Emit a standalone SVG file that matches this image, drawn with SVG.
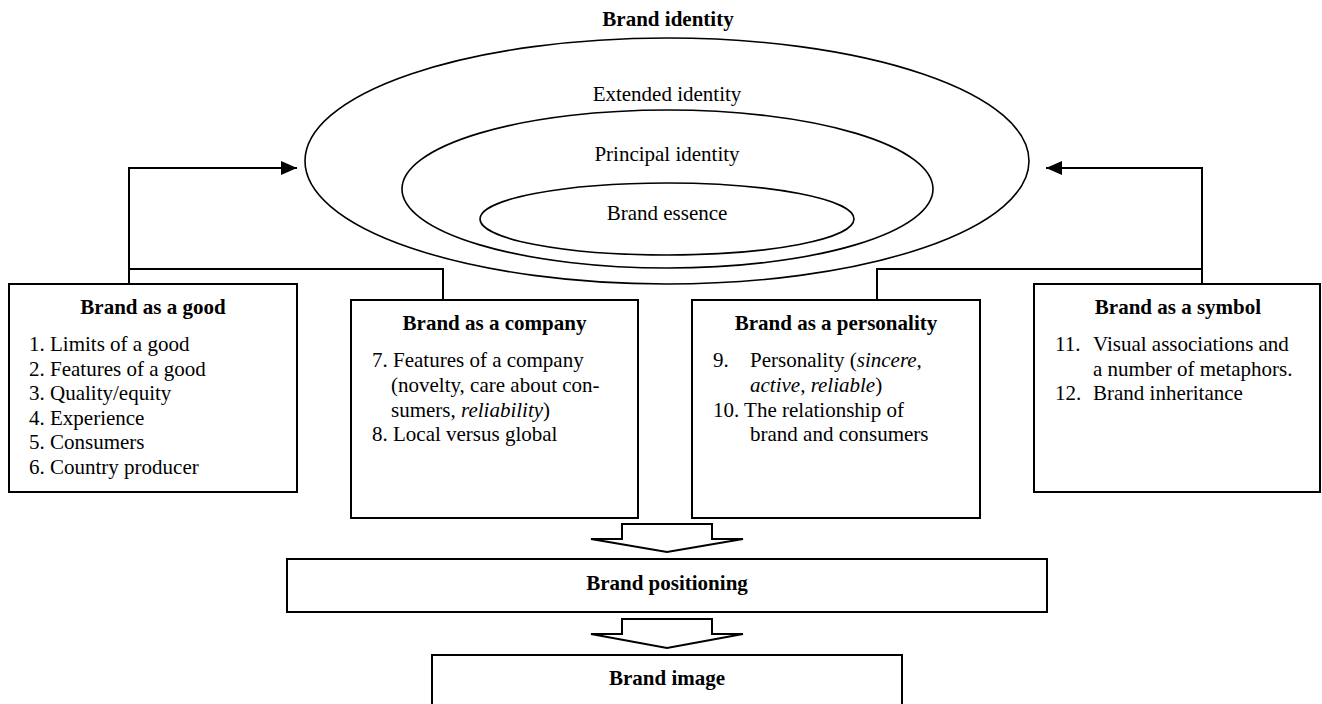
<svg xmlns="http://www.w3.org/2000/svg" width="1322" height="704" viewBox="0 0 1322 704">
<style>
  text { font-family: "Liberation Serif", "Times New Roman", serif; font-size: 21px; fill: #000; }
  .b { font-weight: bold; }
  .c { text-anchor: middle; }
  .box { fill: #fff; stroke: #000; stroke-width: 2; }
  .ell { fill: none; stroke: #000; stroke-width: 1.6; }
  .ln { fill: none; stroke: #000; stroke-width: 2; }
  .blk { fill: #fff; stroke: #000; stroke-width: 2; stroke-linejoin: miter; }
</style>
<defs>
  <marker id="ah" markerWidth="16" markerHeight="14" refX="16" refY="7" orient="auto" markerUnits="userSpaceOnUse">
    <path d="M0,0 L16,7 L0,14 Z" fill="#000"/>
  </marker>
</defs>
<rect width="1322" height="704" fill="#fff"/>

<g id="brand-identity">
  <text class="b c" x="668" y="26">Brand identity</text>
  <ellipse class="ell" cx="667" cy="161" rx="362" ry="123"/>
  <text class="c" x="667" y="101">Extended identity</text>
  <ellipse class="ell" cx="667.5" cy="189" rx="265.5" ry="79"/>
  <text class="c" x="667" y="161">Principal identity</text>
  <ellipse class="ell" cx="667" cy="219" rx="187" ry="36"/>
  <text class="c" x="667" y="220">Brand essence</text>
</g>

<g id="connectors">
  <polyline class="ln" points="129,284 129,168 297,168" marker-end="url(#ah)"/>
  <polyline class="ln" points="129,269 443,269 443,300"/>
  <polyline class="ln" points="1202,284 1202,168 1046,168" marker-end="url(#ah)"/>
  <polyline class="ln" points="1202,269 877,269 877,300"/>
  <polygon class="blk" points="622,524 712,524 712,539 743,539 667,552 591,539 622,539"/>
  <polygon class="blk" points="622,619 712,619 712,634 743,634 667,648 591,634 622,634"/>
</g>

<g id="brand-good">
  <rect class="box" x="9" y="284" width="288" height="208"/>
  <text class="b c" x="153" y="314">Brand as a good</text>
  <text x="29" y="351">1. Limits of a good</text>
  <text x="29" y="375.5">2. Features of a good</text>
  <text x="29" y="400">3. Quality/equity</text>
  <text x="29" y="424.5">4. Experience</text>
  <text x="29" y="449">5. Consumers</text>
  <text x="29" y="473.5">6. Country producer</text>
</g>

<g id="brand-company">
  <rect class="box" x="351" y="300" width="287" height="218"/>
  <text class="b c" x="494.5" y="330">Brand as a company</text>
  <text x="372" y="367">7. Features of a company</text>
  <text x="391" y="392">(novelty, care about con-</text>
  <text x="391" y="416.5">sumers, <tspan font-style="italic">reliability</tspan>)</text>
  <text x="372" y="441">8. Local versus global</text>
</g>

<g id="brand-personality">
  <rect class="box" x="692" y="300" width="288" height="218"/>
  <text class="b c" x="836" y="330">Brand as a personality</text>
  <text x="713" y="367">9.</text>
  <text x="750" y="367">Personality (<tspan font-style="italic">sincere,</tspan></text>
  <text x="750" y="392"><tspan font-style="italic">active, reliable</tspan>)</text>
  <text x="713" y="416.5">10. The relationship of</text>
  <text x="750" y="441">brand and consumers</text>
</g>

<g id="brand-symbol">
  <rect class="box" x="1034" y="284" width="286" height="208"/>
  <text class="b c" x="1178" y="314">Brand as a symbol</text>
  <text x="1055" y="351">11.</text>
  <text x="1093" y="351">Visual associations and</text>
  <text x="1093" y="375.5">a number of metaphors.</text>
  <text x="1055" y="400">12.</text>
  <text x="1093" y="400">Brand inheritance</text>
</g>

<g id="brand-positioning">
  <rect class="box" x="287" y="559" width="760" height="53"/>
  <text class="b c" x="667" y="590">Brand positioning</text>
</g>

<g id="brand-image">
  <rect class="box" x="432" y="655" width="470" height="60"/>
  <text class="b c" x="667" y="685">Brand image</text>
</g>
</svg>
